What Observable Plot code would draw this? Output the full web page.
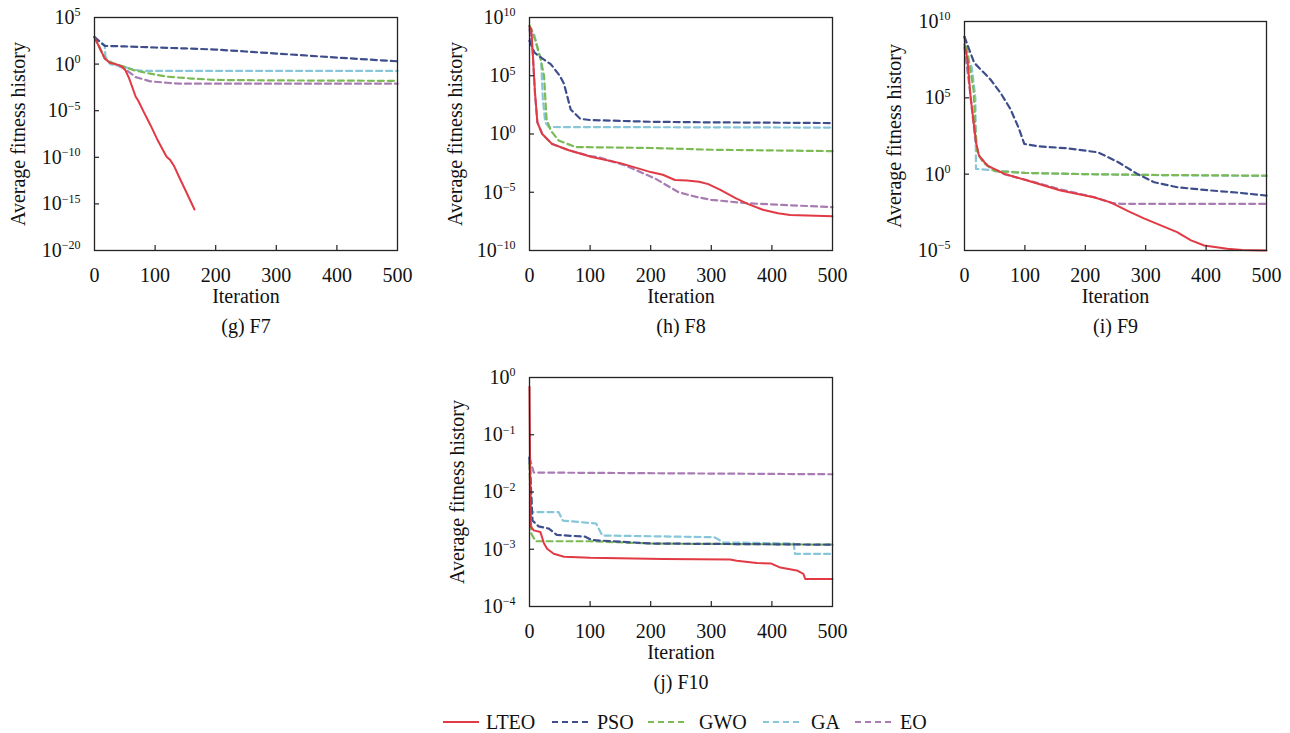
<!DOCTYPE html>
<html>
<head>
<meta charset="utf-8">
<script src="https://cdn.jsdelivr.net/npm/d3@7"></script>
<script src="https://cdn.jsdelivr.net/npm/@observablehq/plot@0.6"></script>
<style>
  html, body { margin: 0; padding: 0; background: #fff; }
  #root { position: relative; width: 1290px; height: 733px; overflow: hidden; background: #fff; }
  #root svg.panel { position: absolute; }
  .leg { position: absolute; top: 709px; height: 26px; display: flex; align-items: center;
         font-family: "Liberation Serif", "Times New Roman", serif; font-size: 20px; color: #111; }
  .leg svg { display: block; }
</style>
</head>
<body>
<div id="root"></div>
<script>
// ---------- series ----------
const seriesNames = ["LTEO", "PSO", "GWO", "GA", "EO"];
const seriesColors = ["#e23a44", "#3e4e8c", "#7cba55", "#86c6d8", "#a87cb2"];
const xTicks = [0, 100, 200, 300, 400, 500];

// ---------- (g) F7 : iteration and log10(fitness) ----------
const F7_LTEO_iter = [0, 8, 17, 25, 35, 45, 51, 57, 68, 72, 81, 92, 103, 112, 119, 125, 131, 141, 152, 165];
const F7_LTEO_exp  = [2.9, 1.8, 0.6, 0.15, 0.0, -0.25, -0.66, -1.5, -3.5, -3.9, -5.1, -6.5, -8.0, -9.1, -9.95, -10.3, -10.9, -12.3, -13.8, -15.6];
const F7_PSO_iter  = [0, 17, 50, 100, 150, 200, 250, 300, 350, 400, 450, 500];
const F7_PSO_exp   = [2.9, 1.95, 1.9, 1.78, 1.68, 1.56, 1.35, 1.13, 0.92, 0.7, 0.5, 0.3];
const F7_GWO_iter  = [0, 17, 30, 50, 65, 90, 120, 160, 200, 300, 500];
const F7_GWO_exp   = [2.9, 0.6, 0.1, -0.3, -0.66, -1.0, -1.35, -1.55, -1.7, -1.75, -1.8];
const F7_GA_iter   = [0, 17, 18, 26, 50, 65, 80, 500];
const F7_GA_exp    = [2.9, 2.0, 0.8, 0.0, -0.3, -0.6, -0.73, -0.73];
const F7_EO_iter   = [0, 17, 30, 50, 68, 92, 120, 140, 500];
const F7_EO_exp    = [2.9, 0.6, 0.1, -0.5, -1.4, -1.85, -2.0, -2.1, -2.1];

// ---------- (h) F8 ----------
const F8_LTEO_iter = [0, 3, 5, 9, 13, 21, 37, 65, 103, 150, 200, 220, 240, 260, 280, 295, 315, 340, 360, 385, 410, 430, 500];
const F8_LTEO_exp  = [9.2, 9.0, 7.3, 3.6, 1.0, 0.0, -0.85, -1.4, -1.98, -2.5, -3.27, -3.5, -3.95, -4.0, -4.1, -4.3, -4.8, -5.5, -6.0, -6.5, -6.8, -6.95, -7.06];
const F8_PSO_iter  = [0, 8, 18, 35, 50, 57, 68, 84, 100, 200, 300, 500];
const F8_PSO_exp   = [8.0, 7.0, 6.6, 6.0, 5.0, 4.3, 2.1, 1.3, 1.2, 1.05, 1.0, 0.94];
const F8_GWO_iter  = [0, 10, 18, 24, 28, 35, 48, 76, 200, 300, 500];
const F8_GWO_exp   = [9.3, 8.0, 6.5, 5.0, 1.3, 0.3, -0.55, -1.12, -1.2, -1.35, -1.47];
const F8_GA_iter   = [0, 8, 15, 19, 22, 26, 32, 500];
const F8_GA_exp    = [9.3, 8.5, 7.0, 6.5, 3.0, 1.0, 0.6, 0.55];
const F8_EO_iter   = [0, 5, 9, 13, 21, 37, 65, 100, 114, 158, 208, 246, 275, 300, 360, 500];
const F8_EO_exp    = [9.0, 7.2, 3.5, 1.0, 0.0, -0.85, -1.4, -1.9, -2.0, -2.7, -3.84, -5.0, -5.4, -5.65, -5.95, -6.28];

// ---------- (i) F9 ----------
const F9_LTEO_iter = [0, 5, 10, 19, 24, 38, 66, 104, 159, 214, 242, 270, 297, 325, 352, 375, 397, 435, 460, 500];
const F9_LTEO_exp  = [8.5, 7.5, 5.1, 2.1, 1.2, 0.56, 0.02, -0.42, -1.07, -1.51, -1.85, -2.4, -2.9, -3.35, -3.8, -4.34, -4.67, -4.89, -4.97, -5.0];
const F9_PSO_iter  = [0, 16, 43, 60, 76, 90, 99, 121, 171, 221, 254, 286, 314, 353, 408, 450, 500];
const F9_PSO_exp   = [9.0, 7.3, 6.2, 5.3, 4.27, 3.0, 1.98, 1.83, 1.69, 1.43, 0.8, 0.02, -0.53, -0.86, -1.07, -1.2, -1.4];
const F9_GWO_iter  = [0, 5, 15, 18, 21, 30, 50, 100, 200, 300, 500];
const F9_GWO_exp   = [9.0, 8.0, 5.5, 3.0, 1.5, 0.8, 0.2, 0.08, 0.0, -0.05, -0.1];
const F9_GA_iter   = [0, 5, 12, 18, 19, 50, 100, 200, 300, 500];
const F9_GA_exp    = [9.0, 7.5, 7.0, 5.0, 0.35, 0.25, 0.08, 0.0, -0.05, -0.12];
const F9_EO_iter   = [0, 8, 18, 24, 40, 66, 104, 159, 214, 245, 260, 500];
const F9_EO_exp    = [8.3, 5.8, 2.2, 1.2, 0.5, 0.0, -0.4, -1.0, -1.5, -1.9, -1.94, -1.94];

// ---------- (j) F10 ----------
const F10_LTEO_iter = [0, 1, 2, 7, 18, 24, 29, 40, 57, 100, 220, 331, 342, 375, 399, 414, 441, 452, 455, 500];
const F10_LTEO_exp  = [-0.16, -1.5, -2.6, -2.67, -2.7, -2.9, -2.99, -3.08, -3.13, -3.15, -3.17, -3.18, -3.2, -3.24, -3.25, -3.32, -3.37, -3.43, -3.52, -3.52];
const F10_PSO_iter  = [0, 5, 15, 32, 45, 92, 103, 120, 200, 500];
const F10_PSO_exp   = [-1.4, -2.5, -2.6, -2.64, -2.75, -2.78, -2.84, -2.85, -2.9, -2.92];
const F10_GWO_iter  = [0, 3, 10, 100, 200, 500];
const F10_GWO_exp   = [-1.5, -2.73, -2.86, -2.86, -2.9, -2.92];
const F10_GA_iter   = [0, 4, 48, 55, 110, 120, 305, 320, 436, 438, 500];
const F10_GA_exp    = [-1.4, -2.35, -2.35, -2.5, -2.55, -2.76, -2.79, -2.88, -2.9, -3.08, -3.08];
const F10_EO_iter   = [0, 7, 500];
const F10_EO_exp    = [-1.4, -1.66, -1.69];

const FONT = '"Liberation Serif", "Times New Roman", serif';

function rows(name, iters, exps) {
  return iters.map((it, i) => ({series: name, iter: it, value: Math.pow(10, exps[i])}));
}
function fmtPow(d) { return "10^" + Math.round(Math.log10(d)); }

function panel(cfg) {
  const data = [
    ...rows("EO", cfg.EO[0], cfg.EO[1]),
    ...rows("GA", cfg.GA[0], cfg.GA[1]),
    ...rows("GWO", cfg.GWO[0], cfg.GWO[1]),
    ...rows("PSO", cfg.PSO[0], cfg.PSO[1])
  ];
  const red = rows("LTEO", cfg.LTEO[0], cfg.LTEO[1]);
  const yt = cfg.yTicks;
  const innerY = yt.slice(1, -1);
  const frameW = cfg.width - cfg.ml - cfg.mr;
  const frameH = cfg.height - cfg.mt - cfg.mb;
  const tickLen = 5;
  const svg = Plot.plot({
    width: cfg.width, height: cfg.height,
    marginLeft: cfg.ml, marginRight: cfg.mr, marginTop: cfg.mt, marginBottom: cfg.mb,
    style: {fontFamily: FONT, fontSize: "20px", color: "#111", background: "transparent", overflow: "visible"},
    x: {domain: [0, 500], axis: null},
    y: {type: "log", domain: cfg.yDomain, axis: null},
    color: {domain: seriesNames, range: seriesColors},
    marks: [
      Plot.lineY(data, {x: "iter", y: "value", z: "series", stroke: "series", strokeWidth: 2.2, strokeDasharray: "6,4"}),
      Plot.lineY(red, {x: "iter", y: "value", stroke: seriesColors[0], strokeWidth: 2}),
      Plot.frame({stroke: "#222", strokeWidth: 1.3}),
      // inward tick marks
      Plot.tickX([100, 200, 300, 400], {x: d => d, stroke: "#222", strokeWidth: 1.2, insetTop: frameH - tickLen}),
      Plot.tickY(innerY, {y: d => d, stroke: "#222", strokeWidth: 1.2, insetRight: frameW - tickLen}),
      Plot.axisX({ticks: xTicks, tickSize: 0, tickPadding: 17, fontSize: 20, tickFormat: d => String(d), label: null}),
      Plot.axisY({ticks: yt, tickSize: 0, tickPadding: 14, fontSize: 20, tickFormat: fmtPow, label: null}),
      Plot.text(["Average fitness history"], {text: d => d, frameAnchor: "left", textAnchor: "middle", dx: -cfg.ylabOff, rotate: -90, fontSize: 20}),
      Plot.text(["Iteration"], {text: d => d, frameAnchor: "bottom", dy: 52, fontSize: 20}),
      Plot.text([cfg.caption], {text: d => d, frameAnchor: "bottom", dy: 82, fontSize: 20})
    ]
  });
  // superscript exponents
  d3.select(svg).selectAll("text").each(function () {
    const t = this.textContent;
    if (!t.startsWith("10^")) return;
    const e = t.slice(3).replace("-", "\u2212");
    this.textContent = "";
    d3.select(this).append("tspan").text("10");
    d3.select(this).append("tspan").attr("dy", "-0.62em").attr("font-size", "12px").text(e);
  });
  svg.classList.add("panel");
  svg.style.left = cfg.left + "px";
  svg.style.top = cfg.top + "px";
  document.getElementById("root").appendChild(svg);
}

panel({
  left: 0, top: 0, width: 430, height: 330, ml: 94, mr: 33, mt: 17, mb: 80, ylabOff: 76,
  yDomain: [1e-20, 1e5], yTicks: [1e5, 1e0, 1e-5, 1e-10, 1e-15, 1e-20], caption: "(g) F7",
  LTEO: [F7_LTEO_iter, F7_LTEO_exp], PSO: [F7_PSO_iter, F7_PSO_exp], GWO: [F7_GWO_iter, F7_GWO_exp],
  GA: [F7_GA_iter, F7_GA_exp], EO: [F7_EO_iter, F7_EO_exp]
});
panel({
  left: 430, top: 0, width: 430, height: 330, ml: 99, mr: 28, mt: 17, mb: 80, ylabOff: 74,
  yDomain: [1e-10, 1e10], yTicks: [1e10, 1e5, 1e0, 1e-5, 1e-10], caption: "(h) F8",
  LTEO: [F8_LTEO_iter, F8_LTEO_exp], PSO: [F8_PSO_iter, F8_PSO_exp], GWO: [F8_GWO_iter, F8_GWO_exp],
  GA: [F8_GA_iter, F8_GA_exp], EO: [F8_EO_iter, F8_EO_exp]
});
panel({
  left: 860, top: 0, width: 430, height: 330, ml: 104, mr: 24, mt: 21, mb: 80, ylabOff: 70,
  yDomain: [1e-5, 1e10], yTicks: [1e10, 1e5, 1e0, 1e-5], caption: "(i) F9",
  LTEO: [F9_LTEO_iter, F9_LTEO_exp], PSO: [F9_PSO_iter, F9_PSO_exp], GWO: [F9_GWO_iter, F9_GWO_exp],
  GA: [F9_GA_iter, F9_GA_exp], EO: [F9_EO_iter, F9_EO_exp]
});
panel({
  left: 430, top: 330, width: 430, height: 370, ml: 99, mr: 28, mt: 47, mb: 94, ylabOff: 72,
  yDomain: [1e-4, 1e0], yTicks: [1e0, 1e-1, 1e-2, 1e-3, 1e-4], caption: "(j) F10",
  LTEO: [F10_LTEO_iter, F10_LTEO_exp], PSO: [F10_PSO_iter, F10_PSO_exp], GWO: [F10_GWO_iter, F10_GWO_exp],
  GA: [F10_GA_iter, F10_GA_exp], EO: [F10_EO_iter, F10_EO_exp]
});

// ---------- legend ----------
const legendLeft = [443, 552, 648, 763, 855];
const legendGap = [7, 9, 15, 12, 9];
const root = document.getElementById("root");
seriesNames.forEach((name, i) => {
  const item = document.createElement("div");
  item.className = "leg";
  item.style.left = legendLeft[i] + "px";
  const dash = i === 0 ? "" : ' stroke-dasharray="6,4"';
  item.innerHTML = `<svg width="36" height="10"><line x1="0" x2="36" y1="5" y2="5" stroke="${seriesColors[i]}" stroke-width="2.2"${dash}/></svg><span style="margin-left:${legendGap[i]}px">${name}</span>`;
  root.appendChild(item);
});
</script>
</body>
</html>
